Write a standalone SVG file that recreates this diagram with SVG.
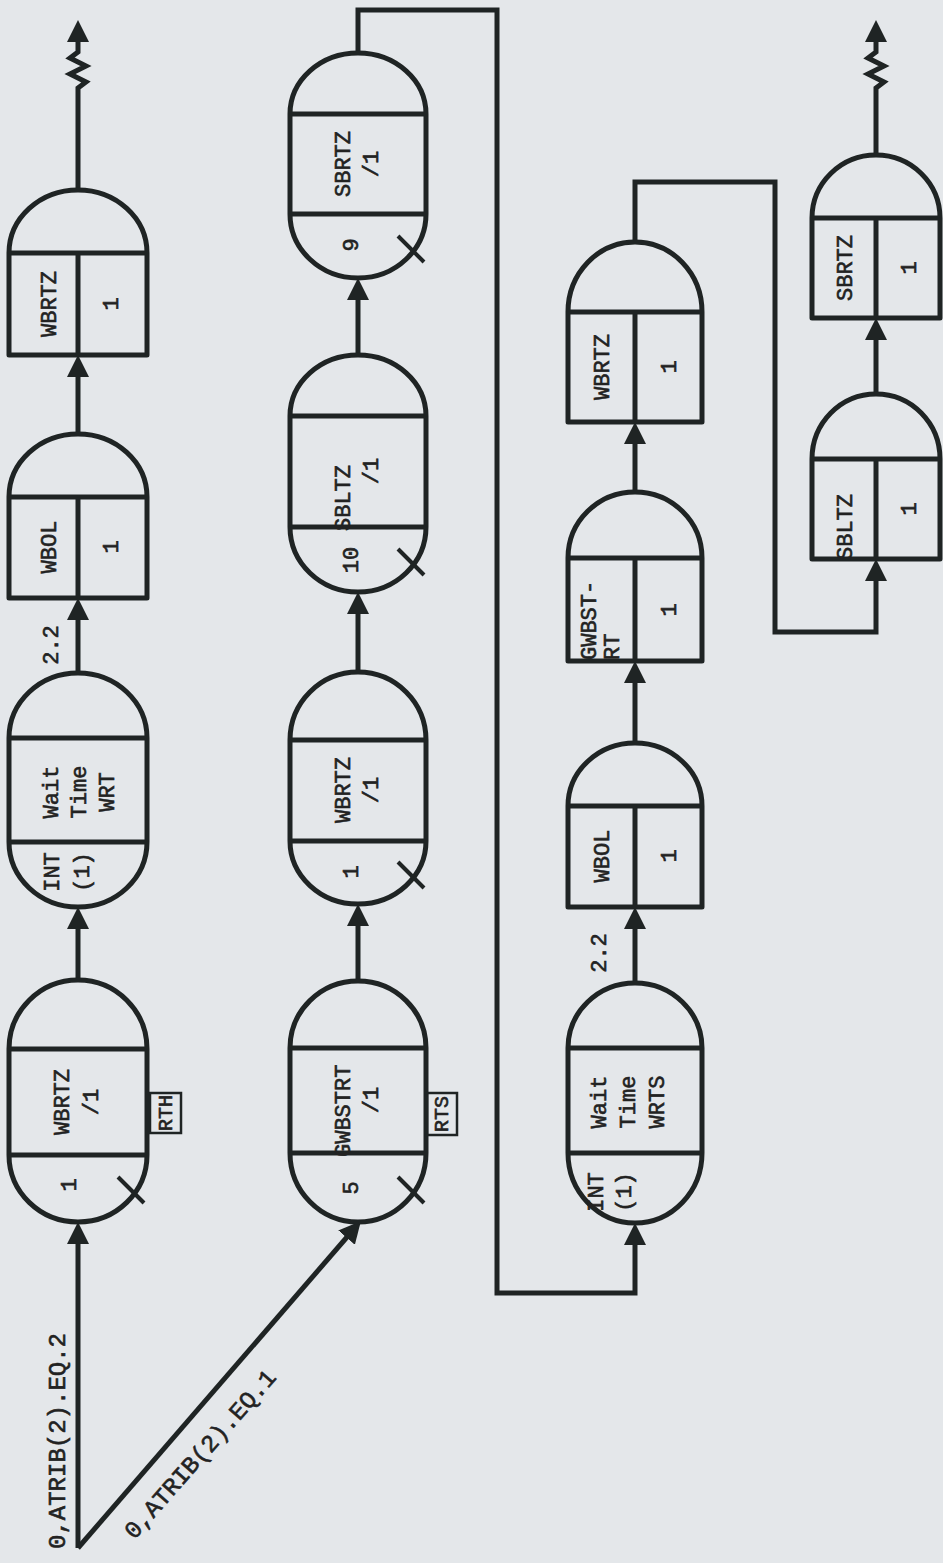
<svg xmlns="http://www.w3.org/2000/svg" width="943" height="1563" viewBox="0 0 943 1563">
<defs>
<style>
.bg{fill:#e4e7ea}
.n{fill:none;stroke:#1f2424;stroke-width:5;stroke-linejoin:round}
.tk{fill:none;stroke:#1f2424;stroke-width:4}
.c{fill:none;stroke:#1f2424;stroke-width:5;stroke-linejoin:miter}
.a{marker-end:url(#ah)}
.t{font-family:"Liberation Mono","Courier New",monospace;font-size:22px;fill:#222;stroke:#222;stroke-width:0.6;text-anchor:middle;dominant-baseline:central}
.s{text-anchor:start}
.e{font-size:24px}
.bx{fill:none;stroke:#1f2424;stroke-width:2.5}
.sm{font-size:20px}
</style>
<marker id="ah" viewBox="0 0 22 22" refX="12" refY="11" markerWidth="22" markerHeight="22" markerUnits="userSpaceOnUse" orient="auto">
<path d="M0,0 L22,11 L0,22 Z" fill="#1f2424"/>
</marker>
</defs>
<rect class="bg" x="0" y="0" width="943" height="1563"/>

<g id="connectors">
<path class="c a" d="M78,190 V88 L86,82 L70,74 L86,66 L70,58 L78,52 V30"/>
<path class="c a" d="M78,434 V365"/>
<path class="c a" d="M78,673 V608"/>
<path class="c a" d="M78,980 V917"/>
<path class="c a" d="M78,1548 V1232"/>
<path class="c a" d="M78,1548 L354.4,1228.5"/>
<path class="c a" d="M358,981 V914"/>
<path class="c a" d="M358,672 V602"/>
<path class="c a" d="M358,355 V288"/>
<path class="c a" d="M358,53 V10 H497 V1293 H635 V1233"/>
<path class="c a" d="M635,983 V917"/>
<path class="c a" d="M635,743 V671"/>
<path class="c a" d="M635,492 V432"/>
<path class="c a" d="M635,242 V182 H775 V632 H876 V569"/>
<path class="c a" d="M876,394 V328"/>
<path class="c a" d="M876,155 V88 L884,82 L868,74 L884,66 L868,58 L876,52 V30"/>
<text class="t" transform="translate(52,645) rotate(-90)">2.2</text>
<text class="t" transform="translate(600,953) rotate(-90)">2.2</text>
<text class="t e" transform="translate(58,1441) rotate(-90)">0,ATRIB(2).EQ.2</text>
<text class="t e" transform="translate(201,1455) rotate(-48.6)">0,ATRIB(2).EQ.1</text>
</g>

<g id="c1-wbrtz-out">
<path class="n" d="M9,355 V253 A69,63 0 0 1 147,253 V355 Z M9,253 H147 M78,253 V355"/>
<text class="t" transform="translate(50,304) rotate(-90)">WBRTZ</text>
<text class="t" transform="translate(112,304) rotate(-90)">1</text>
</g>

<g id="c1-wbol">
<path class="n" d="M9,598 V497 A69,63 0 0 1 147,497 V598 Z M9,497 H147 M78,497 V598"/>
<text class="t" transform="translate(50,547) rotate(-90)">WBOL</text>
<text class="t" transform="translate(112,547) rotate(-90)">1</text>
</g>

<g id="c1-wait-wrt">
<path class="n" d="M9,738 A69,65 0 0 1 147,738 V842 A69,65 0 0 1 9,842 Z M9,738 H147 M9,842 H147"/>
<text class="t" transform="translate(52,792) rotate(-90)">Wait</text>
<text class="t" transform="translate(80,792) rotate(-90)">Time</text>
<text class="t" transform="translate(108,792) rotate(-90)">WRT</text>
<text class="t" transform="translate(53,872) rotate(-90)">INT</text>
<text class="t" transform="translate(83,872) rotate(-90)">(1)</text>
</g>

<g id="c1-wbrtz-q">
<path class="n" d="M9,1049 A69,69 0 0 1 147,1049 V1155 A69,67 0 0 1 9,1155 Z M9,1049 H147 M9,1155 H147"/>
<path class="tk" d="M118,1177 L144,1203"/>
<text class="t" transform="translate(63,1102) rotate(-90)">WBRTZ</text>
<text class="t" transform="translate(92,1102) rotate(-90)">/1</text>
<text class="t" transform="translate(70,1185) rotate(-90)">1</text>
<rect class="bx" x="150" y="1093" width="31" height="40"/>
<text class="t sm" transform="translate(166,1113) rotate(-90)">RTH</text>
</g>

<g id="c2-sbrtz">
<path class="n" d="M290,114 A68,61 0 0 1 426,114 V214 A68,64 0 0 1 290,214 Z M290,114 H426 M290,214 H426"/>
<path class="tk" d="M398,236 L424,262"/>
<text class="t" transform="translate(344,164) rotate(-90)">SBRTZ</text>
<text class="t" transform="translate(372,164) rotate(-90)">/1</text>
<text class="t" transform="translate(352,245) rotate(-90)">9</text>
</g>

<g id="c2-sbltz">
<path class="n" d="M290,416 A68,61 0 0 1 426,416 V527 A68,65 0 0 1 290,527 Z M290,416 H426 M290,527 H426"/>
<path class="tk" d="M398,549 L424,575"/>
<text class="t s" transform="translate(344,531) rotate(-90)">SBLTZ</text>
<text class="t" transform="translate(372,471) rotate(-90)">/1</text>
<text class="t" transform="translate(352,560) rotate(-90)">10</text>
</g>

<g id="c2-wbrtz">
<path class="n" d="M290,740 A68,68 0 0 1 426,740 V841 A68,63 0 0 1 290,841 Z M290,740 H426 M290,841 H426"/>
<path class="tk" d="M398,862 L424,888"/>
<text class="t" transform="translate(344,790) rotate(-90)">WBRTZ</text>
<text class="t" transform="translate(372,790) rotate(-90)">/1</text>
<text class="t" transform="translate(352,872) rotate(-90)">1</text>
</g>

<g id="c2-gwbstrt">
<path class="n" d="M290,1048 A68,67 0 0 1 426,1048 V1153 A68,69 0 0 1 290,1153 Z M290,1048 H426 M290,1153 H426"/>
<path class="tk" d="M398,1177 L424,1203"/>
<text class="t s" transform="translate(344,1157) rotate(-90)">GWBSTRT</text>
<text class="t" transform="translate(372,1100) rotate(-90)">/1</text>
<text class="t" transform="translate(352,1188) rotate(-90)">5</text>
<rect class="bx" x="427" y="1093" width="30" height="42"/>
<text class="t sm" transform="translate(442,1114) rotate(-90)">RTS</text>
</g>

<g id="c3-wbrtz">
<path class="n" d="M568,422 V312 A67,70 0 0 1 702,312 V422 Z M568,312 H702 M635,312 V422"/>
<text class="t" transform="translate(603,367) rotate(-90)">WBRTZ</text>
<text class="t" transform="translate(670,367) rotate(-90)">1</text>
</g>

<g id="c3-gwbstrt">
<path class="n" d="M568,661 V558 A67,66 0 0 1 702,558 V661 Z M568,558 H702 M635,558 V661"/>
<text class="t s" transform="translate(590,660) rotate(-90)">GWBST-</text>
<text class="t s" transform="translate(613,660) rotate(-90)">RT</text>
<text class="t" transform="translate(670,610) rotate(-90)">1</text>
</g>

<g id="c3-wbol">
<path class="n" d="M568,907 V806 A67,63 0 0 1 702,806 V907 Z M568,806 H702 M635,806 V907"/>
<text class="t" transform="translate(603,856) rotate(-90)">WBOL</text>
<text class="t" transform="translate(670,856) rotate(-90)">1</text>
</g>

<g id="c3-wait-wrts">
<path class="n" d="M568,1048 A67,65 0 0 1 702,1048 V1153 A67,70 0 0 1 568,1153 Z M568,1048 H702 M568,1153 H702"/>
<text class="t" transform="translate(600,1102) rotate(-90)">Wait</text>
<text class="t" transform="translate(629,1102) rotate(-90)">Time</text>
<text class="t" transform="translate(658,1102) rotate(-90)">WRTS</text>
<text class="t" transform="translate(597,1192) rotate(-90)">INT</text>
<text class="t" transform="translate(625,1192) rotate(-90)">(1)</text>
</g>

<g id="c4-sbrtz">
<path class="n" d="M812,318 V218 A64,63 0 0 1 940,218 V318 Z M812,218 H940 M876,218 V318"/>
<text class="t" transform="translate(846,268) rotate(-90)">SBRTZ</text>
<text class="t" transform="translate(910,268) rotate(-90)">1</text>
</g>

<g id="c4-sbltz">
<path class="n" d="M812,559 V459 A64,65 0 0 1 940,459 V559 Z M812,459 H940 M876,459 V559"/>
<text class="t s" transform="translate(846,560) rotate(-90)">SBLTZ</text>
<text class="t" transform="translate(910,509) rotate(-90)">1</text>
</g>
</svg>
